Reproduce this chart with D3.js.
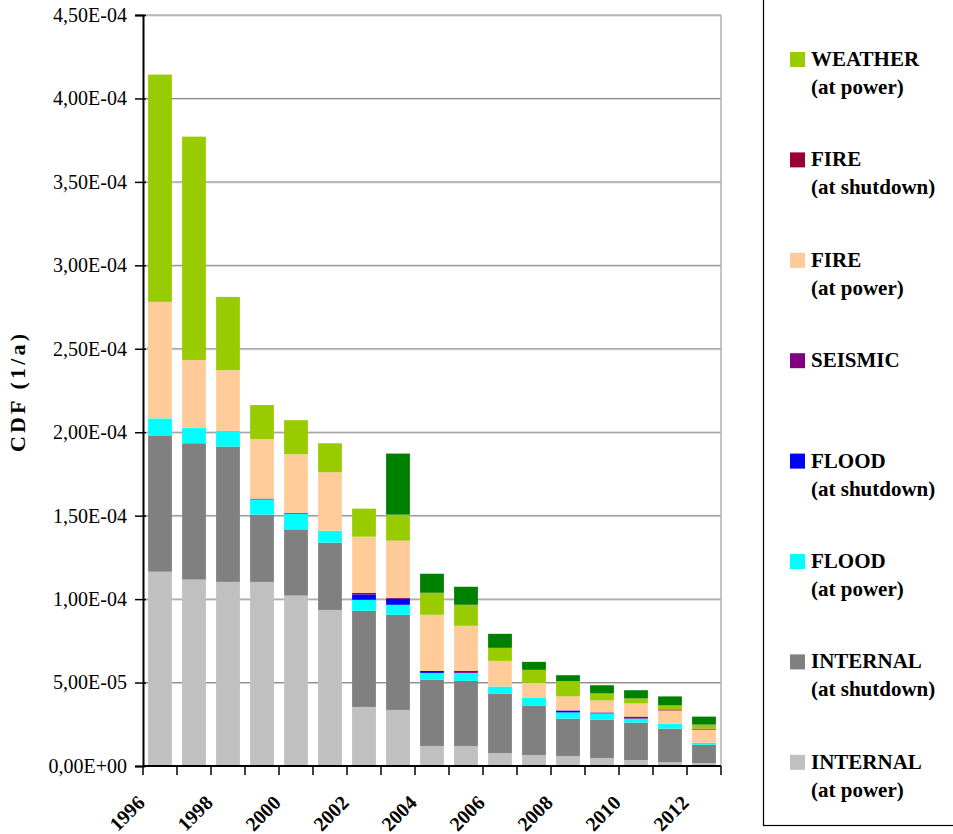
<!DOCTYPE html>
<html>
<head>
<meta charset="utf-8">
<script src="https://cdn.jsdelivr.net/npm/d3@7"></script>
<style>
  body { margin: 0; background: #fff; }
  svg { display: block; }
  svg text { font-family: "Liberation Serif", "Times New Roman", serif; fill: #000; }
</style>
</head>
<body>
<svg id="chart" width="953" height="834"></svg>
<script>
// values, in units of 1E-05 (1/a)
const years = [1996, 1997, 1998, 1999, 2000, 2001, 2002, 2003, 2004, 2005, 2006, 2007, 2008, 2009, 2010, 2011, 2012];
const internalPower    = [11.64, 11.17, 11.03, 11.03, 10.21, 9.35, 3.54, 3.36, 1.20, 1.20, 0.78, 0.66, 0.60, 0.48, 0.36, 0.24, 0.18];
const internalShutdown = [8.17, 8.17, 8.11, 4.03, 3.97, 4.03, 5.76, 5.70, 3.96, 3.90, 3.54, 2.94, 2.24, 2.30, 2.24, 2.00, 1.09];
const floodPower       = [1.02, 0.91, 0.94, 0.91, 0.94, 0.72, 0.66, 0.60, 0.42, 0.48, 0.44, 0.48, 0.37, 0.37, 0.24, 0.30, 0.12];
const floodShutdown    = [0, 0, 0, 0, 0, 0, 0.32, 0.36, 0.12, 0, 0, 0, 0.12, 0, 0, 0, 0];
const seismic          = [0, 0, 0, 0.05, 0.05, 0, 0.10, 0.06, 0, 0.12, 0, 0, 0, 0.06, 0.12, 0, 0];
const firePower        = [6.98, 4.08, 3.64, 3.57, 3.51, 3.50, 3.36, 3.42, 3.36, 2.70, 1.54, 0.90, 0.84, 0.72, 0.79, 0.79, 0.79];
const fireShutdown     = [0, 0, 0, 0, 0, 0, 0, 0, 0, 0, 0, 0, 0, 0, 0, 0.06, 0.06];
const weatherPower     = [13.62, 13.38, 4.39, 2.04, 2.04, 1.74, 1.68, 1.56, 1.32, 1.26, 0.78, 0.78, 0.91, 0.42, 0.30, 0.24, 0.24];
const other            = [0, 0, 0, 0, 0, 0, 0, 3.66, 1.14, 1.08, 0.84, 0.48, 0.36, 0.49, 0.49, 0.54, 0.48];

const yTicks = [0, 5e-5, 1e-4, 1.5e-4, 2e-4, 2.5e-4, 3e-4, 3.5e-4, 4e-4, 4.5e-4];
const xTickLabels = [1996, 1998, 2000, 2002, 2004, 2006, 2008, 2010, 2012];

// bottom to top
const series = [
  { key: "ip", name: ["INTERNAL", "(at power)"], color: "#C0C0C0", values: internalPower },
  { key: "is", name: ["INTERNAL", "(at shutdown)"], color: "#808080", values: internalShutdown },
  { key: "fp", name: ["FLOOD", "(at power)"], color: "#00FFFF", values: floodPower },
  { key: "fs", name: ["FLOOD", "(at shutdown)"], color: "#0000FF", values: floodShutdown },
  { key: "se", name: ["SEISMIC"], color: "#800080", values: seismic },
  { key: "rp", name: ["FIRE", "(at power)"], color: "#FFCC99", values: firePower },
  { key: "rs", name: ["FIRE", "(at shutdown)"], color: "#990033", values: fireShutdown },
  { key: "wp", name: ["WEATHER", "(at power)"], color: "#99CC00", values: weatherPower },
  { key: "ot", name: null, color: "#008000", values: other }
];

const table = years.map((yr, i) => {
  const row = { year: yr };
  series.forEach(s => { row[s.key] = s.values[i] * 1e-5; });
  return row;
});

const svg = d3.select("#chart");
const plotL = 143, plotR = 721, plotT = 15, plotB = 766;

const x = d3.scaleBand().domain(years).range([plotL, plotR]).paddingInner(0.3).paddingOuter(0.15);
const y = d3.scaleLinear().domain([0, 4.5e-4]).range([plotB, plotT]);

// Excel style "4,50E-04"
function sci(v) {
  if (v === 0) return "0,00E+00";
  const [m, e] = v.toExponential(2).split("e");
  const n = +e;
  return m.replace(".", ",") + "E" + (n < 0 ? "-" : "+") + String(Math.abs(n)).padStart(2, "0");
}

// gridlines
const grid = svg.append("g");
yTicks.filter(t => t > 0).forEach(t => {
  grid.append("line").attr("x1", plotL).attr("x2", plotR)
    .attr("y1", y(t) + 1).attr("y2", y(t) + 1)
    .attr("stroke", "#d0d0d0").attr("stroke-width", 1);
  grid.append("line").attr("x1", plotL).attr("x2", plotR)
    .attr("y1", y(t)).attr("y2", y(t))
    .attr("stroke", "#888").attr("stroke-width", 1);
});
svg.append("line").attr("x1", plotR).attr("x2", plotR).attr("y1", plotT).attr("y2", plotB)
  .attr("stroke", "#b0b0b0").attr("stroke-width", 1.5);

// bars
const stacked = d3.stack().keys(series.map(s => s.key))(table);
svg.append("g").selectAll("g")
  .data(stacked)
  .join("g")
  .attr("fill", (d, i) => series[i].color)
  .selectAll("rect")
  .data(d => d)
  .join("rect")
  .attr("x", d => x(d.data.year))
  .attr("width", x.bandwidth())
  .attr("y", d => y(d[1]))
  .attr("height", d => Math.max(0, y(d[0]) - y(d[1])));

// y axis
const yAxis = svg.append("g")
  .attr("transform", `translate(${plotL},0)`)
  .call(d3.axisLeft(y).tickValues(yTicks).tickFormat(sci).tickSize(8).tickPadding(8));
yAxis.attr("font-family", null).attr("font-size", null);
yAxis.select(".domain").attr("stroke", "#000").attr("stroke-width", 2);
yAxis.selectAll(".tick line").attr("x1", 3).attr("stroke", "#000").attr("stroke-width", 1.5);
yAxis.selectAll(".tick text").attr("font-size", 20);

// x axis (ticks between categories)
const bounds = d3.range(years.length + 1).map(i => plotL + i * (plotR - plotL) / years.length);
const xAxis = svg.append("g");
xAxis.append("line").attr("x1", plotL).attr("x2", plotR).attr("y1", plotB).attr("y2", plotB)
  .attr("stroke", "#000").attr("stroke-width", 2);
xAxis.selectAll("line.tk").data(bounds).join("line").attr("class", "tk")
  .attr("x1", d => d).attr("x2", d => d).attr("y1", plotB).attr("y2", plotB + 9)
  .attr("stroke", "#000").attr("stroke-width", 1.5);
xAxis.selectAll("text").data(xTickLabels).join("text")
  .attr("transform", d => `translate(${x(d) + x.bandwidth() / 2 - 14},${plotB + 38}) rotate(-45)`)
  .attr("text-anchor", "end")
  .attr("font-weight", "bold").attr("font-size", 20)
  .text(d => d);

// y title
svg.append("text")
  .attr("transform", `translate(25,393) rotate(-90)`)
  .attr("text-anchor", "middle")
  .attr("font-weight", "bold").attr("font-size", 22)
  .attr("textLength", 118).attr("lengthAdjust", "spacing")
  .text("CDF (1/a)");

// legend
svg.append("rect").attr("x", 763.5).attr("y", -10).attr("width", 300).attr("height", 835.5)
  .attr("fill", "none").attr("stroke", "#000").attr("stroke-width", 1.2);
const legendItems = series.filter(s => s.name).slice().reverse();
const lg = svg.append("g").selectAll("g").data(legendItems).join("g")
  .attr("transform", (d, i) => `translate(790,${52 + i * 100.4})`);
lg.append("rect").attr("width", 15).attr("height", 15).attr("fill", d => d.color);
lg.append("text")
  .attr("font-weight", "bold").attr("font-size", 21)
  .selectAll("tspan").data(d => d.name).join("tspan")
  .attr("x", 21).attr("y", (d, i) => 14 + i * 28)
  .text(d => d);
</script>
</body>
</html>
